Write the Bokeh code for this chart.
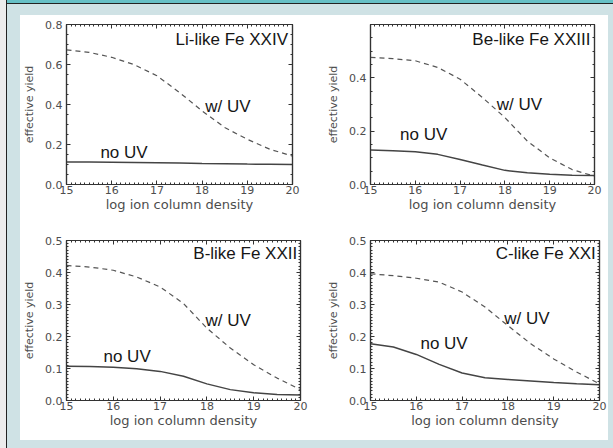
from bokeh.plotting import figure
from bokeh.models import (Spacer, Label, LinearAxis, SingleIntervalTicker,
                          PrintfTickFormatter, CustomJSTickFormatter, Range1d)
from bokeh.layouts import row, column
from bokeh.embed import file_html
from bokeh.resources import INLINE

# ---------------- data ----------------
log_n = [15.0, 15.5, 16.0, 16.5, 17.0, 17.5, 18.0, 18.5, 19.0, 19.5, 20.0]

li_uv   = [0.673, 0.661, 0.636, 0.599, 0.544, 0.460, 0.368, 0.285, 0.226, 0.176, 0.142]
li_nouv = [0.112, 0.112, 0.111, 0.110, 0.109, 0.107, 0.105, 0.104, 0.102, 0.101, 0.100]

be_uv   = [0.477, 0.472, 0.464, 0.439, 0.395, 0.326, 0.251, 0.163, 0.100, 0.056, 0.031]
be_nouv = [0.129, 0.127, 0.123, 0.113, 0.094, 0.073, 0.053, 0.044, 0.038, 0.035, 0.034]

b_uv    = [0.422, 0.417, 0.407, 0.386, 0.355, 0.303, 0.226, 0.164, 0.112, 0.070, 0.034]
b_nouv  = [0.107, 0.106, 0.104, 0.099, 0.091, 0.076, 0.052, 0.034, 0.024, 0.019, 0.017]

c_uv    = [0.396, 0.390, 0.382, 0.370, 0.339, 0.292, 0.234, 0.177, 0.130, 0.089, 0.052]
c_nouv  = [0.177, 0.167, 0.144, 0.113, 0.086, 0.071, 0.066, 0.061, 0.056, 0.052, 0.049]

titles = ["Li-like Fe XXIV", "Be-like Fe XXIII", "B-like Fe XXII", "C-like Fe XXI"]
y_max = [0.8, 0.6, 0.5, 0.5]
x_label = "log ion column density"
y_label = "effective yield"
uv_text = "w/ UV"
nouv_text = "no UV"

# ---------------- style ----------------
AX = "#333333"
TICK_TXT = "#4d4d4d"
FONT = "DejaVu Sans"
TFONT = "Liberation Sans"


def style_axis(ax, ticker, formatter=None):
    ax.ticker = ticker
    if formatter is not None:
        ax.formatter = formatter
    ax.major_tick_in = 4
    ax.major_tick_out = 0
    ax.minor_tick_in = 2
    ax.minor_tick_out = 0
    ax.axis_line_color = AX
    ax.axis_line_width = 1.2
    ax.major_tick_line_color = AX
    ax.minor_tick_line_color = AX
    ax.major_label_text_font = FONT
    ax.major_label_text_font_size = "11px"
    ax.major_label_text_color = TICK_TXT
    ax.axis_label_text_font = FONT
    ax.axis_label_text_font_style = "normal"
    ax.axis_label_text_color = TICK_TXT


def panel(uv, nouv, title, ymax, yint, yminor, w, h, bl, br, bt, bb,
          title_pos, uv_pos, nouv_pos):
    p = figure(width=w, height=h, x_range=Range1d(15, 20), y_range=Range1d(0, ymax),
               output_backend="svg", toolbar_location=None,
               min_border_left=bl, min_border_right=br,
               min_border_top=bt, min_border_bottom=bb)
    p.xgrid.visible = False
    p.ygrid.visible = False
    p.outline_line_color = AX
    p.outline_line_width = 1.2
    p.background_fill_color = "white"
    p.border_fill_color = "white"

    xt = lambda: SingleIntervalTicker(interval=1, num_minor_ticks=10)
    yt = lambda: SingleIntervalTicker(interval=yint, num_minor_ticks=yminor)

    xa = p.xaxis[0]
    style_axis(xa, xt(), PrintfTickFormatter(format="%d"))
    xa.axis_label = x_label
    xa.axis_label_text_font_size = "13px"
    xa.major_label_standoff = 1
    xa.axis_label_standoff = 0

    ya = p.yaxis[0]
    style_axis(ya, yt(), PrintfTickFormatter(format="%.1f"))
    ya.axis_label = y_label
    ya.axis_label_text_font_size = "11px"
    ya.major_label_standoff = 4
    ya.axis_label_standoff = 6

    top = LinearAxis(major_label_standoff=0)
    style_axis(top, xt(), CustomJSTickFormatter(code="return ''"))
    p.add_layout(top, "above")
    right = LinearAxis(major_label_standoff=0)
    style_axis(right, yt(), CustomJSTickFormatter(code="return ''"))
    p.add_layout(right, "right")

    p.line(log_n, uv, line_color="#555555", line_width=1.2, line_dash="5 4")
    p.line(log_n, nouv, line_color="#444444", line_width=1.5)

    for txt, (x, y, align) in ((title, title_pos), (uv_text, uv_pos), (nouv_text, nouv_pos)):
        p.add_layout(Label(x=x, y=y, text=txt, text_font=TFONT, text_font_size="17px",
                           text_color="#161616", text_align=align,
                           text_baseline="alphabetic"))
    return p


tl = panel(li_uv, li_nouv, titles[0], y_max[0], 0.2, 4, 298, 213, 46, 26, 9, 44,
           (19.9, 0.725, "right"), (18.07, 0.39, "left"), (15.75, 0.158, "left"))
tr = panel(be_uv, be_nouv, titles[1], y_max[1], 0.2, 4, 290, 213, 52, 14, 9, 44,
           (19.91, 0.545, "right"), (17.82, 0.301, "left"), (15.66, 0.188, "left"))
bl = panel(b_uv, b_nouv, titles[2], y_max[2], 0.1, 10, 298, 212, 46, 18, 12, 40,
           (19.93, 0.46, "right"), (17.97, 0.25, "left"), (15.79, 0.137, "left"))
br = panel(c_uv, c_nouv, titles[3], y_max[3], 0.1, 10, 290, 212, 52, 9, 12, 40,
           (19.92, 0.46, "right"), (17.92, 0.2555, "left"), (16.09, 0.178, "left"))

LB = "#cfe2e5"


def sp(w, h, c):
    return Spacer(width=w, height=h, styles={"background-color": c})


white = column(row(tl, tr), row(bl, br))
main = row(sp(13, 444, LB),
           column(sp(588, 11, LB), white, sp(588, 8, LB)),
           sp(5, 444, LB))
right_col = column(sp(606, 3, "#66c0c6"), sp(606, 1, "#222222"), main)
page = row(sp(6, 448, "#ececec"), sp(1, 448, "#222222"), right_col)

open("out.html", "w").write(file_html(page, INLINE))
